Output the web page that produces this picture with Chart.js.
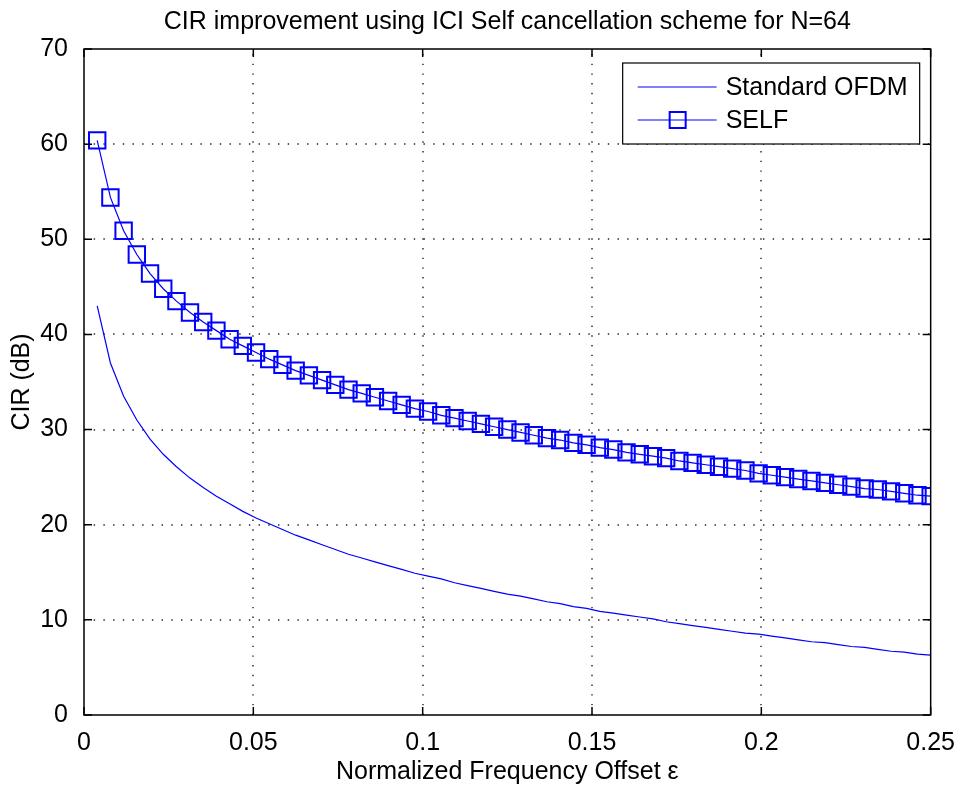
<!DOCTYPE html>
<html>
<head>
<meta charset="utf-8">
<script src="https://cdn.jsdelivr.net/npm/chart.js@4/dist/chart.umd.min.js"></script>
<style>
  html, body { margin: 0; padding: 0; background: #fff; }
  #wrap { width: 960px; height: 787px; }
</style>
</head>
<body>
<div id="wrap"><canvas id="cir" width="960" height="787"></canvas></div>
<script>
// normalized frequency offset, eps = k/256, k = 1..64
const epsilon = [
  0.0039, 0.0078, 0.0117, 0.0156, 0.0195, 0.0234, 0.0273, 0.0313,
  0.0352, 0.0391, 0.0430, 0.0469, 0.0508, 0.0547, 0.0586, 0.0625,
  0.0664, 0.0703, 0.0742, 0.0781, 0.0820, 0.0859, 0.0898, 0.0938,
  0.0977, 0.1016, 0.1055, 0.1094, 0.1133, 0.1172, 0.1211, 0.1250,
  0.1289, 0.1328, 0.1367, 0.1406, 0.1445, 0.1484, 0.1523, 0.1563,
  0.1602, 0.1641, 0.1680, 0.1719, 0.1758, 0.1797, 0.1836, 0.1875,
  0.1914, 0.1953, 0.1992, 0.2031, 0.2070, 0.2109, 0.2148, 0.2188,
  0.2227, 0.2266, 0.2305, 0.2344, 0.2383, 0.2422, 0.2461, 0.2500
];

const cirStandard = [
  43.0, 37.0, 33.5, 31.0, 29.0, 27.4, 26.1, 24.9,
  23.9, 23.0, 22.2, 21.4, 20.7, 20.1, 19.5, 18.9,
  18.4, 17.9, 17.4, 16.9, 16.5, 16.1, 15.7, 15.3,
  14.9, 14.6, 14.3, 13.9, 13.6, 13.3, 13.0, 12.7,
  12.5, 12.2, 11.9, 11.7, 11.4, 11.2, 10.9, 10.7,
  10.5, 10.3, 10.1, 9.8, 9.6, 9.4, 9.2, 9.0,
  8.8, 8.6, 8.5, 8.3, 8.1, 7.9, 7.7, 7.6,
  7.4, 7.2, 7.1, 6.9, 6.7, 6.6, 6.4, 6.3
];

const cirSelf = [
  60.4, 54.4, 50.9, 48.4, 46.4, 44.8, 43.5, 42.3,
  41.3, 40.4, 39.5, 38.8, 38.1, 37.4, 36.8, 36.2,
  35.7, 35.2, 34.7, 34.2, 33.8, 33.4, 33.0, 32.6,
  32.2, 31.9, 31.5, 31.2, 30.9, 30.6, 30.3, 30.0,
  29.7, 29.4, 29.1, 28.9, 28.6, 28.4, 28.1, 27.9,
  27.6, 27.4, 27.2, 27.0, 26.7, 26.5, 26.3, 26.1,
  25.9, 25.7, 25.4, 25.2, 25.0, 24.8, 24.6, 24.4,
  24.2, 24.0, 23.8, 23.7, 23.5, 23.3, 23.1, 23.0
];

const xTicks = [0, 0.05, 0.1, 0.15, 0.2, 0.25];
const yTicks = [0, 10, 20, 30, 40, 50, 60, 70];

const FONT = "'Liberation Sans', Arial, sans-serif";
const FSIZE = 25;
const BLUE = "#0000ff";

function toPoints(ys) {
  return ys.map(function (y, i) { return { x: epsilon[i], y: y }; });
}

// MATLAB-like box, dotted grid, inward ticks and legend
const matlabAxes = {
  id: "matlabAxes",
  beforeDatasetsDraw: function (chart) {
    const ctx = chart.ctx;
    const a = chart.chartArea;
    const xs = chart.scales.x, ys = chart.scales.y;
    ctx.save();
    ctx.strokeStyle = "#222";
    ctx.lineWidth = 1.4;
    ctx.setLineDash([1.4, 8.3]);
    xTicks.forEach(function (v) {
      const px = Math.round(xs.getPixelForValue(v));
      if (px <= a.left + 1 || px >= a.right - 1) return;
      ctx.beginPath(); ctx.moveTo(px, a.bottom); ctx.lineTo(px, a.top); ctx.stroke();
    });
    yTicks.forEach(function (v) {
      const py = Math.round(ys.getPixelForValue(v));
      if (py <= a.top + 1 || py >= a.bottom - 1) return;
      ctx.beginPath(); ctx.moveTo(a.left, py); ctx.lineTo(a.right, py); ctx.stroke();
    });
    ctx.restore();
  },
  afterDraw: function (chart) {
    const ctx = chart.ctx;
    const a = chart.chartArea;
    const xs = chart.scales.x, ys = chart.scales.y;
    const tl = 8;
    ctx.save();
    ctx.strokeStyle = "#000";
    ctx.lineWidth = 1.5;
    ctx.setLineDash([]);
    ctx.strokeRect(a.left, a.top, a.right - a.left, a.bottom - a.top);
    ctx.beginPath();
    xTicks.forEach(function (v) {
      const px = xs.getPixelForValue(v);
      ctx.moveTo(px, a.bottom); ctx.lineTo(px, a.bottom - tl);
      ctx.moveTo(px, a.top); ctx.lineTo(px, a.top + tl);
    });
    yTicks.forEach(function (v) {
      const py = ys.getPixelForValue(v);
      ctx.moveTo(a.left, py); ctx.lineTo(a.left + tl, py);
      ctx.moveTo(a.right, py); ctx.lineTo(a.right - tl, py);
    });
    ctx.stroke();

    // legend
    const bx = a.right - 308, by = a.top + 14, bw = 297, bh = 81;
    ctx.fillStyle = "#fff";
    ctx.fillRect(bx, by, bw, bh);
    ctx.lineWidth = 1.2;
    ctx.strokeStyle = "#000";
    ctx.strokeRect(bx, by, bw, bh);
    const ds = chart.data.datasets;
    ctx.font = FSIZE + "px " + FONT;
    ctx.textBaseline = "middle";
    ctx.textAlign = "left";
    [24, 57].forEach(function (dy, i) {
      const ly = by + dy;
      ctx.strokeStyle = BLUE;
      ctx.lineWidth = 1;
      ctx.beginPath(); ctx.moveTo(bx + 15, ly); ctx.lineTo(bx + 94, ly); ctx.stroke();
      if (i === 1) {
        ctx.lineWidth = 2;
        ctx.strokeRect(bx + 47, ly - 8, 16, 16);
      }
      ctx.fillStyle = "#000";
      ctx.fillText(ds[i].label, bx + 103, ly + 1);
    });
    ctx.restore();
  }
};

new Chart(document.getElementById("cir"), {
  type: "line",
  data: {
    datasets: [
      {
        label: "Standard OFDM",
        data: toPoints(cirStandard),
        borderColor: BLUE,
        borderWidth: 1.2,
        pointRadius: 0,
        tension: 0,
        fill: false
      },
      {
        label: "SELF",
        data: toPoints(cirSelf),
        borderColor: BLUE,
        borderWidth: 1.2,
        pointStyle: "rect",
        pointRadius: 11.6,
        pointBorderWidth: 2,
        pointBorderColor: BLUE,
        pointBackgroundColor: "rgba(0,0,0,0)",
        tension: 0,
        fill: false
      }
    ]
  },
  options: {
    responsive: false,
    animation: false,
    devicePixelRatio: 1,
    layout: { padding: { top: 0, right: 27, bottom: 0, left: 0 } },
    plugins: {
      legend: { display: false },
      tooltip: { enabled: false },
      title: {
        display: true,
        fullSize: false,
        text: "CIR improvement using ICI Self cancellation scheme for N=64",
        color: "#000",
        font: { family: FONT, size: FSIZE, weight: "normal" },
        padding: { top: 7, bottom: 12 }
      }
    },
    scales: {
      x: {
        type: "linear",
        min: 0,
        max: 0.25,
        afterBuildTicks: function (s) { s.ticks = xTicks.map(function (v) { return { value: v }; }); },
        afterFit: function (s) { s.height = 72; },
        grid: { display: false },
        border: { display: false },
        ticks: {
          color: "#000",
          font: { family: FONT, size: FSIZE },
          padding: 5,
          maxRotation: 0,
          autoSkip: false,
          callback: function (v) { return String(v); }
        },
        title: {
          display: true,
          text: "Normalized Frequency Offset ε",
          color: "#000",
          font: { family: FONT, size: FSIZE },
          padding: { top: 0, bottom: 0 }
        }
      },
      y: {
        type: "linear",
        min: 0,
        max: 70,
        afterBuildTicks: function (s) { s.ticks = yTicks.map(function (v) { return { value: v }; }); },
        afterFit: function (s) { s.width = 84; },
        grid: { display: false },
        border: { display: false },
        ticks: {
          color: "#000",
          font: { family: FONT, size: FSIZE },
          padding: 8,
          autoSkip: false,
          callback: function (v) { return String(v); }
        },
        title: {
          display: true,
          text: "CIR (dB)",
          color: "#000",
          font: { family: FONT, size: FSIZE },
          padding: { top: 7, bottom: 0 }
        }
      }
    }
  },
  plugins: [matlabAxes]
});
</script>
</body>
</html>
